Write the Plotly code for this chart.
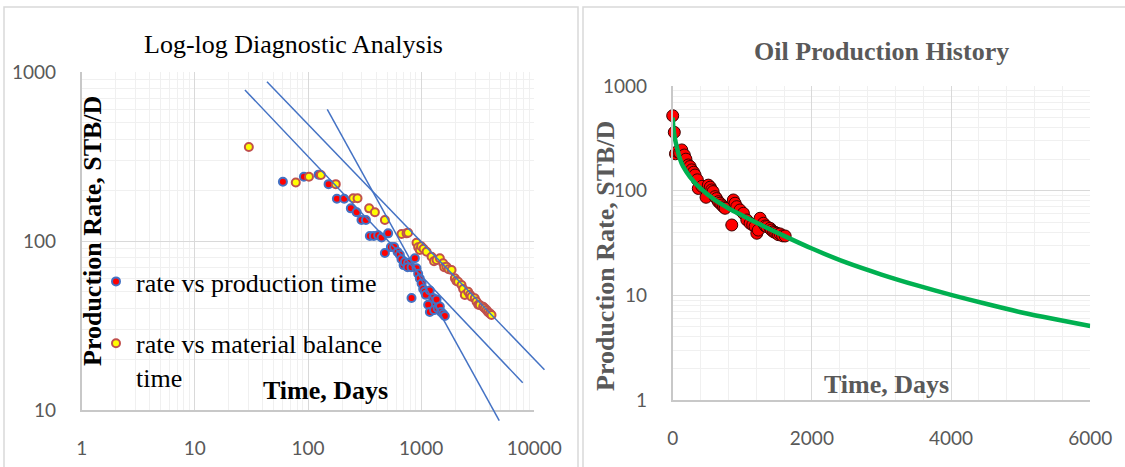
import plotly.graph_objects as go

# ---------------- Left chart: Log-log diagnostic analysis ----------------
t_prod = [60, 92, 124, 152, 180, 209, 239, 269, 297, 325, 352, 382, 417, 447, 511,
          478, 540, 577, 619, 648, 671, 700, 718, 767, 760, 822, 880, 910, 941, 973,
          1009, 1042, 1079, 822, 1100, 1194, 1250, 1277, 1368, 1153, 1194, 1300, 1400,
          1463, 1500, 1564, 1619]
q_prod = [224, 240, 247, 217, 178, 178, 156, 148, 133, 133, 107, 107, 108, 105, 111,
          85, 92, 92, 86, 83, 78, 72, 75, 74, 70, 70, 79, 69, 64, 60,
          56, 52, 50, 46, 48, 51, 43, 46, 45, 42, 38, 39, 40,
          41, 38, 37, 36]

t_mb = [30, 78, 102, 130, 176, 251, 274, 347, 390, 478, 671, 743, 767, 910, 941,
        973, 1000, 1050, 1117, 1236, 1300, 1368, 1463, 1564, 1600, 1676, 1750, 1857,
        1986, 2050, 2123, 2275, 2350, 2432, 2601, 2700, 2786, 2978, 3083, 3200, 3296,
        3532, 3650, 3784, 3900, 4046, 4188]
q_mb = [360, 222, 240, 246, 217, 179, 179, 156, 148, 133, 110, 111, 112, 97.7, 91.8,
        88.4, 93, 90, 86.4, 80.7, 76, 77.3, 79, 73.8, 70, 70.4, 68, 67.3,
        60.2, 58, 57.4, 54.9, 52, 47.9, 50.1, 48, 46.8, 45.8, 43.8, 42, 41.8,
        40.8, 40, 39.1, 38, 37.3, 36.5]

# straight-line guides drawn on the log-log plot (end points)
lineA_t = [27.7, 7900]
lineA_q = [783, 14.5]
lineB_t = [43.4, 12300]
lineB_q = [876, 17.3]
lineC_t = [148, 4900]
lineC_q = [601, 8.65]

log_time_ticks = [1, 10, 100, 1000, 10000]
log_time_text = ["1", "10", "100", "1000", "10000"]
left_rate_ticks = [10, 100, 1000]
left_rate_text = ["10", "100", "1000"]

# ---------------- Right chart: Oil production history ----------------
t_hist = [0, 23, 40, 66, 100, 130, 167, 190, 224, 250, 273, 300, 321, 354, 368, 420,
          479, 512, 540, 561, 580, 609, 630, 656, 680, 705, 730, 753, 849, 872, 896,
          921, 968, 1016, 1065, 1112, 1150, 1184, 1209, 1230, 1256, 1304, 1330, 1353,
          1400, 1420, 1448, 1470, 1497, 1520, 1544, 1580, 1616]
q_hist = [520, 361, 225, 236, 230, 245, 219, 200, 176, 170, 158, 150, 141, 127, 105, 110,
          86.5, 113, 108, 101.6, 98, 87.7, 84, 78.5, 76, 73, 70, 67.9, 47, 81.5, 75.8,
          70.3, 65.4, 60.8, 52.5, 48.8, 47, 45.3, 39.2, 42, 54.5, 48.8, 46, 45.3,
          43.7, 42, 40.6, 40, 39.2, 38, 38.6, 37, 36.9]

t_fit = [0, 10, 30, 60, 100, 150, 250, 400, 600, 800, 1000, 1300, 1600, 2000, 2500,
         3000, 3500, 4000, 4500, 5000, 5500, 6000]
q_fit = [500, 400, 320, 260, 205, 170, 135, 105, 82, 68, 58, 46, 37, 28, 20.5,
         15.8, 12.5, 10.1, 8.3, 6.9, 5.9, 5.1]

time_ticks = [0, 2000, 4000, 6000]
time_text = ["0", "2000", "4000", "6000"]
right_rate_ticks = [1, 10, 100, 1000]
right_rate_text = ["1", "10", "100", "1000"]

# ---------------- layout helpers ----------------
W, H = 1125, 467


def px(p):
    return p / W


def py(p):
    return 1 - p / H


SERIF = "Liberation Serif"
SANS = "Lato"
GRAY = "#595959"
MAJOR = "#D9D9D9"
MINOR = "#F0F0F0"
AXLINE = "#C8C8C8"

fig = go.Figure()

fig.add_trace(go.Scatter(
    x=t_prod, y=q_prod, mode="markers", name="rate vs production time",
    legendgroup="a", xaxis="x", yaxis="y", cliponaxis=False,
    marker=dict(size=8, color="#FF0000", line=dict(color="#4472C4", width=2))))
fig.add_trace(go.Scatter(
    x=t_mb, y=q_mb, mode="markers", name="rate vs material balance<br>time",
    legendgroup="b", xaxis="x", yaxis="y", cliponaxis=False,
    marker=dict(size=8, color="#FFFF00", line=dict(color="#C0504D", width=2))))

for lt, lq in [(lineA_t, lineA_q), (lineB_t, lineB_q), (lineC_t, lineC_q)]:
    fig.add_trace(go.Scatter(
        x=lt, y=lq, mode="lines", showlegend=False, xaxis="x3", yaxis="y3",
        line=dict(color="#4472C4", width=1.5)))

fig.add_trace(go.Scatter(
    x=t_hist, y=q_hist, mode="markers", showlegend=False, xaxis="x2", yaxis="y2",
    cliponaxis=False,
    marker=dict(size=12, color="#FF0000", line=dict(color="#3A0000", width=1))))
fig.add_trace(go.Scatter(
    x=t_fit, y=q_fit, mode="lines", showlegend=False, xaxis="x2", yaxis="y2",
    line=dict(color="#00B050", width=4.5, shape="spline", smoothing=0.8)))

tickfont = dict(family=SANS, size=19, color=GRAY)

# plot areas in pixels
L_X0, L_X1, L_Y0, L_Y1 = 81.7, 534.3, 72, 410
R_X0, R_X1, R_Y0, R_Y1 = 672.7, 1090.2, 86, 400

dec_x = (L_X1 - L_X0) / 4.0
dec_y = (L_Y1 - L_Y0) / 2.0
EXT_X1, EXT_Y1 = 560, 432

common = dict(automargin=False, ticks="", ticklabelstandoff=20, tickfont=tickfont,
              zeroline=False, showline=True, linecolor=AXLINE, linewidth=1.5,
              showgrid=True, gridcolor=MAJOR, gridwidth=1, tickmode="array")

fig.update_layout(
    template="none",
    width=W, height=H, autosize=False,
    margin=dict(l=0, r=0, t=0, b=0, pad=0),
    paper_bgcolor="white", plot_bgcolor="rgba(0,0,0,0)",
    showlegend=True,
    xaxis=dict(type="log", range=[0, 4], domain=[px(L_X0), px(L_X1)], anchor="y",
               tickvals=log_time_ticks, ticktext=log_time_text,
               minor=dict(dtick="D1", showgrid=True, gridcolor=MINOR, gridwidth=1),
               **common),
    yaxis=dict(type="log", range=[1, 3], domain=[py(L_Y1), py(L_Y0)], anchor="x",
               tickvals=left_rate_ticks, ticktext=left_rate_text,
               minor=dict(dtick="D1", showgrid=True, gridcolor=MINOR, gridwidth=1),
               **common),
    xaxis3=dict(type="log", range=[0, (EXT_X1 - L_X0) / dec_x], automargin=False,
                domain=[px(L_X0), px(EXT_X1)], anchor="y3", visible=False),
    yaxis3=dict(type="log", range=[3 - (EXT_Y1 - L_Y0) / dec_y, 3], automargin=False,
                domain=[py(EXT_Y1), py(L_Y0)], anchor="x3", visible=False),
    xaxis2=dict(type="linear", range=[0, 6000], domain=[px(R_X0), px(R_X1)], anchor="y2",
                tickvals=time_ticks, ticktext=time_text,
                minor=dict(dtick=400, showgrid=True, gridcolor=MINOR, gridwidth=1),
                **common),
    yaxis2=dict(type="log", range=[0, 3], domain=[py(R_Y1), py(R_Y0)], anchor="x2",
                tickvals=right_rate_ticks, ticktext=right_rate_text,
                minor=dict(dtick="D1", showgrid=True, gridcolor=MINOR, gridwidth=1),
                **common),
    legend=dict(x=px(96), y=py(258), xanchor="left", yanchor="top",
                font=dict(family=SERIF, size=26, color="black"),
                bgcolor="rgba(0,0,0,0)", tracegroupgap=25, valign="top",
                itemwidth=30),
    shapes=[
        dict(type="rect", xref="paper", yref="paper", x0=px(4), x1=px(578),
             y0=py(480), y1=py(7), line=dict(color="#D9D9D9", width=1.5), layer="below"),
        dict(type="rect", xref="paper", yref="paper", x0=px(583), x1=px(1140),
             y0=py(480), y1=py(7), line=dict(color="#D9D9D9", width=1.5), layer="below"),
    ],
    annotations=[
        dict(text="Log-log Diagnostic Analysis", x=px(293), y=py(44), xref="paper",
             yref="paper", showarrow=False, xanchor="center", yanchor="middle",
             font=dict(family=SERIF, size=26, color="black")),
        dict(text="<b>Production Rate, STB/D</b>", x=px(93), y=py(231), xref="paper",
             yref="paper", showarrow=False, textangle=-90, xanchor="center",
             yanchor="middle", font=dict(family=SERIF, size=26, color="black")),
        dict(text="<b>Time, Days</b>", x=px(325.5), y=py(390), xref="paper",
             yref="paper", showarrow=False, xanchor="center", yanchor="middle",
             font=dict(family=SERIF, size=26, color="black")),
        dict(text="<b>Oil Production History</b>", x=px(881.6), y=py(52), xref="paper",
             yref="paper", showarrow=False, xanchor="center", yanchor="middle",
             font=dict(family=SERIF, size=26, color=GRAY)),
        dict(text="<b>Production Rate, STB/D</b>", x=px(605), y=py(256), xref="paper",
             yref="paper", showarrow=False, textangle=-90, xanchor="center",
             yanchor="middle", font=dict(family=SERIF, size=26, color=GRAY)),
        dict(text="<b>Time, Days</b>", x=px(886), y=py(384), xref="paper",
             yref="paper", showarrow=False, xanchor="center", yanchor="middle",
             font=dict(family=SERIF, size=26, color=GRAY)),
    ],
)

fig.write_html("out.html")
